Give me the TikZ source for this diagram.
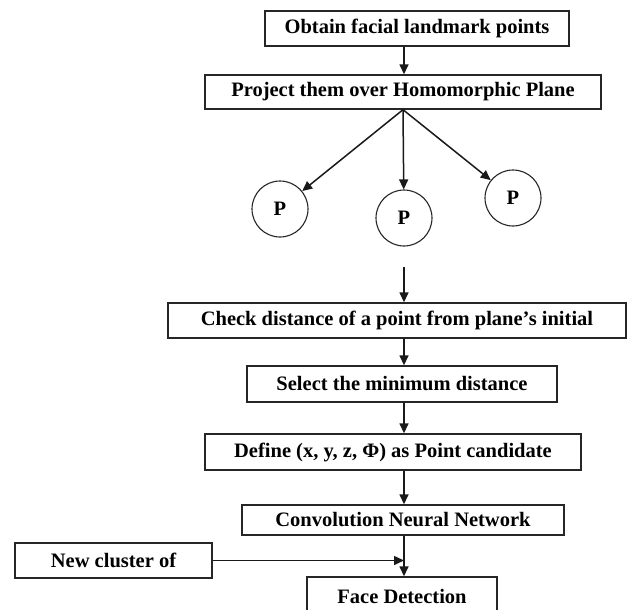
\documentclass[tikz,border=0pt]{standalone}
\usepackage{fontspec}
\setmainfont{Liberation Serif}
\usetikzlibrary{arrows.meta}
\begin{document}
\begin{tikzpicture}[x=1pt,y=-1pt,
  font=\fontsize{20.5}{24}\selectfont\bfseries,
  box/.style={draw=black!85,line width=1.4pt,inner sep=0pt,minimum height=#1,anchor=center},
  box/.default=35pt,
  pt/.style={draw=black!85,line width=1.1pt,circle,minimum size=56pt,inner sep=0pt},
  arr/.style={draw=black!90,line width=1.5pt,-{Triangle[length=10pt,width=9pt]}}]
\useasboundingbox (0,0) rectangle (627,610);
\coordinate (axis) at (404,0);
\node[box,minimum width=304pt] (b1) at (417,28.5) {Obtain facial landmark points};
\node[box=34pt,minimum width=396pt] (b2) at (403,92) {Project them over Homomorphic Plane};
\node[pt] (c1) at (280,209) {P};
\node[pt] (c2) at (404,218) {P};
\node[pt] (c3) at (513,198) {P};
\coordinate (gap) at (404,267);
\node[box,minimum width=458pt] (b3) at (397,320.5) {Check distance of a point from plane’s initial};
\node[box=36pt,minimum width=310pt] (b4) at (402,384) {Select the minimum distance};
\node[box=36pt,minimum width=376pt] (b5) at (393,452) {Define (x, y, z, Φ) as Point candidate};
\node[box=30pt,minimum width=322pt] (b6) at (403,520) {Convolution Neural Network};
\node[box,minimum width=197pt] (nc) at (113.5,560.5) {New cluster of};
\node[box=38pt,minimum width=190pt] (b7) at (402,596) {Face Detection};
\draw[arr] (b1.south -| axis) -- (b2.north -| axis);
\draw[arr] (b2.south) -- (c1);
\draw[arr] (b2.south) -- (c2);
\draw[arr] (b2.south) -- (c3);
\draw[arr] (gap) -- (gap |- b3.north);
\draw[arr] (b3.south -| axis) -- (b4.north -| axis);
\draw[arr] (b4.south -| axis) -- (b5.north -| axis);
\draw[arr] (b5.south -| axis) -- (b6.north -| axis);
\draw[arr] (b6.south -| axis) -- (b7.north -| axis);
\draw[arr] (nc.east) -- (nc.east -| axis);
\end{tikzpicture}
\end{document}
